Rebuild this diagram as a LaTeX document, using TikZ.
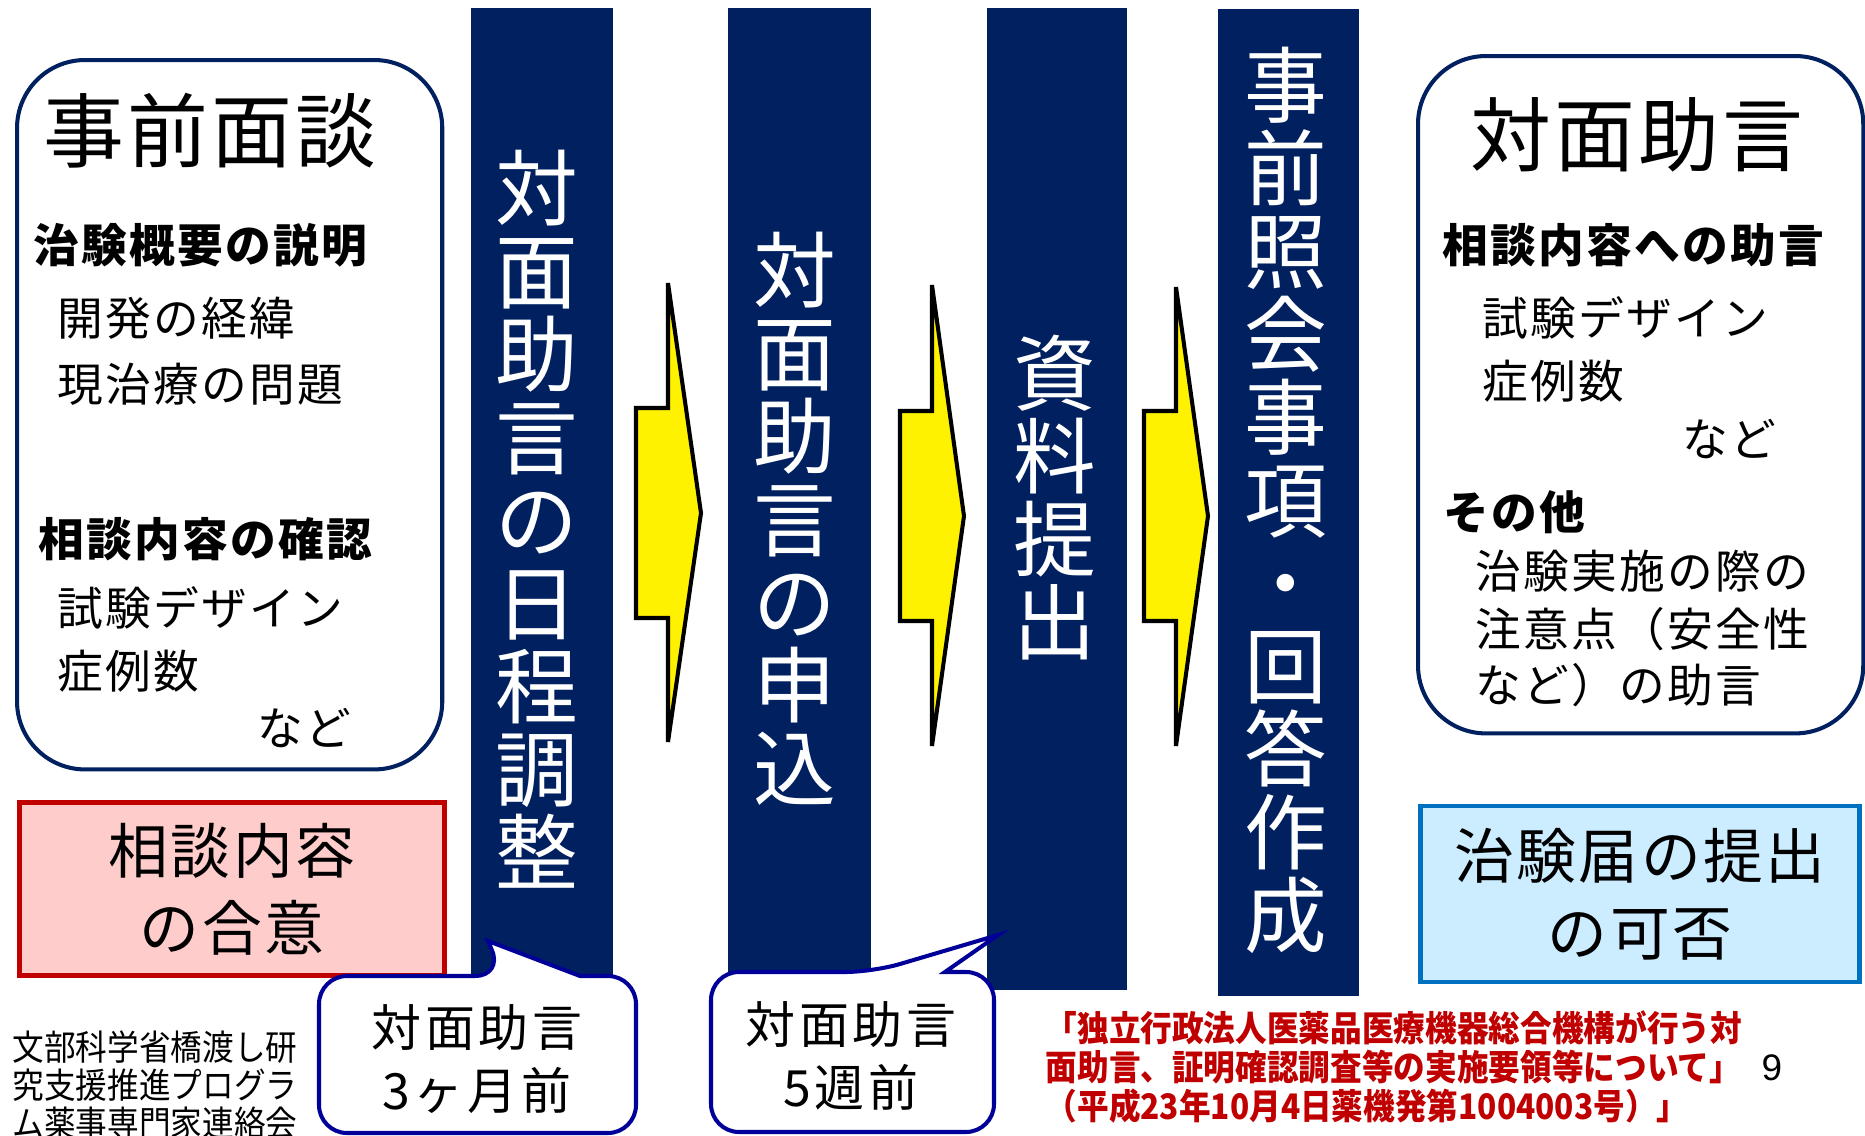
\documentclass[tikz,border=0pt]{standalone}
\usepackage{fontspec}
\setmainfont{Noto Sans CJK JP}
\newfontfamily\jpnarrow[FakeStretch=0.9]{Noto Sans CJK JP}
\newfontfamily\pagenofont{Liberation Sans}
\usetikzlibrary{positioning}
\usepackage{xcolor}
\definecolor{barnavy}{RGB}{0,32,96}
\definecolor{callnavy}{RGB}{0,0,153}
\definecolor{agreered}{RGB}{192,0,0}
\definecolor{agreepink}{RGB}{255,204,204}
\definecolor{notifyblue}{RGB}{0,112,192}
\definecolor{notifysky}{RGB}{204,236,255}

\newcommand\titlefont{\fontsize{23}{27}\selectfont\addfontfeature{LetterSpace=4}}
\newcommand\itemfont{\fontsize{13}{15}\selectfont\addfontfeature{LetterSpace=5}}
\newcommand\barfont{\fontsize{23.5}{23.6}\selectfont\lineskiplimit=-\maxdimen}
\newcommand\boxfont{\fontsize{17}{21.8}\selectfont\addfontfeature{LetterSpace=4}\lineskiplimit=-\maxdimen}
\newcommand\callfont{\fontsize{14.2}{17.9}\selectfont\addfontfeature{LetterSpace=8}\lineskiplimit=-\maxdimen}
\newcommand\notefont{\jpnarrow\fontsize{10}{10.7}\selectfont\lineskiplimit=-\maxdimen}
\newcommand\citefont{\jpnarrow\bfseries\fontsize{10}{11}\selectfont\lineskiplimit=-\maxdimen}

\begin{document}
\begin{tikzpicture}[x=0.01cm,y=-0.01cm,
    every node/.style={inner sep=0pt},
    infobox/.style={draw=barnavy,line width=1.15pt,rounded corners=0.68cm,fill=white,anchor=north west},
    stepbar/.style={fill=barnavy,anchor=north west},
    bartext/.style={text=white,align=center,font=\barfont},
    title/.style={font=\titlefont},
    head/.style={font=\itemfont\bfseries,anchor=west},
    item/.style={font=\itemfont,anchor=west},
    flowarrow/.style={fill=yellow,draw=black,line width=1.15pt},
    callout/.style={draw=callnavy,fill=white,line width=1.15pt},
    calltext/.style={align=center,font=\callfont}]
    \useasboundingbox (0,0) rectangle (1865,1136);

    % process bars
    \node[stepbar,minimum width=1.42cm,minimum height=9.68cm] (schedulebar) at (470,7) {};
    \node[stepbar,minimum width=1.43cm,minimum height=9.68cm] (applybar) at (727,7) {};
    \node[stepbar,minimum width=1.40cm,minimum height=9.82cm] (submitbar) at (986,7) {};
    \node[stepbar,minimum width=1.41cm,minimum height=9.87cm] (inquirybar) at (1217,8) {};
    \node[bartext] (schedule) at (537,519) {対\\面\\助\\言\\の\\日\\程\\調\\整};
    \node[bartext] (apply) at (795,519) {対\\面\\助\\言\\の\\申\\込};
    \node[bartext] (submit) at (1055,498) {資\\料\\提\\出};
    \node[bartext] (inquiry) at (1286,500) {事\\前\\照\\会\\事\\項\\・\\回\\答\\作\\成};

    % yellow arrows
    \draw[flowarrow] (636,408) -- (668,408) -- (668,283) -- (701,513) -- (668,742) -- (668,618) -- (636,618) -- cycle;
    \draw[flowarrow] (900,411) -- (932,411) -- (932,285) -- (964,516) -- (932,746) -- (932,621) -- (900,621) -- cycle;
    \draw[flowarrow] (1144,411) -- (1176,411) -- (1176,287) -- (1208,516) -- (1176,746) -- (1176,621) -- (1144,621) -- cycle;

    % pre-meeting box
    \node[infobox,minimum width=4.25cm,minimum height=7.09cm] (prebox) at (15,58) {};
    \node[title] (pretitle) at (210,131) {事前面談};
    \node[head] (preoutline) at (33,245) {治験概要の説明};
    \node[item] (prehistory) at (57,318) {開発の経緯};
    \node[item] (preproblem) at (57,384) {現治療の問題};
    \node[head] (precheck) at (38,539) {相談内容の確認};
    \node[item] (predesign) at (57,608) {試験デザイン};
    \node[item] (precases) at (57,671) {症例数};
    \node[item] (preetc) at (257,728) {など};

    % face-to-face advice box
    \node[infobox,minimum width=4.45cm,minimum height=6.77cm] (advbox) at (1416,54) {};
    \node[title] (advtitle) at (1637,135) {対面助言};
    \node[head] (advcontent) at (1442,245) {相談内容への助言};
    \node[item] (advdesign) at (1482,318) {試験デザイン};
    \node[item] (advcases) at (1482,381) {症例数};
    \node[item] (advetc) at (1682,439) {など};
    \node[head] (advother) at (1443,512) {その他};
    \node[item] (advnote1) at (1475,571) {治験実施の際の};
    \node[item] (advnote2) at (1475,629) {注意点（安全性};
    \node[item] (advnote3) at (1475,685) {など）の助言};

    % result boxes
    \node[draw=agreered,fill=agreepink,line width=1.3pt,minimum width=4.25cm,minimum height=1.73cm,
          align=center,font=\boxfont] (agree) at (232,889) {相談内容\\の合意};
    \node[draw=notifyblue,fill=notifysky,line width=1.3pt,minimum width=4.39cm,minimum height=1.76cm,
          align=center,font=\boxfont] (notify) at (1640,894) {治験届の提出\\の可否};

    % callouts
    \draw[callout] (580,976) [rounded corners=0.28cm] -- (636,976) -- (636,1133) -- (319,1133) -- (319,976) -- (503,976) [sharp corners] -- (488,941) -- cycle;
    \node[calltext] (bub3m) at (477,1059) {対面助言\\3ヶ月前};
    \draw[callout] (945,972) [rounded corners=0.28cm] -- (994,972) -- (994,1132) -- (711,1132) -- (711,972) -- (873,972) [sharp corners] -- (998,935) -- cycle;
    \node[calltext] (bub5w) at (851,1056) {対面助言\\5週前};

    % footnotes
    \node[align=center,font=\notefont] (sponsor) at (155,1085) {文部科学省橋渡し研\\究支援推進プログラ\\ム薬事専門家連絡会};
    \node[align=left,anchor=west,text=agreered,font=\citefont] (citation) at (1045,1067)
        {「独立行政法人医薬品医療機器総合機構が行う対\\面助言、証明確認調査等の実施要領等について」\\（平成23年10月4日薬機発第1004003号）」};
    \node[font=\pagenofont\fontsize{10.5}{12}\selectfont] (pageno) at (1772,1068) {9};
\end{tikzpicture}
\end{document}
